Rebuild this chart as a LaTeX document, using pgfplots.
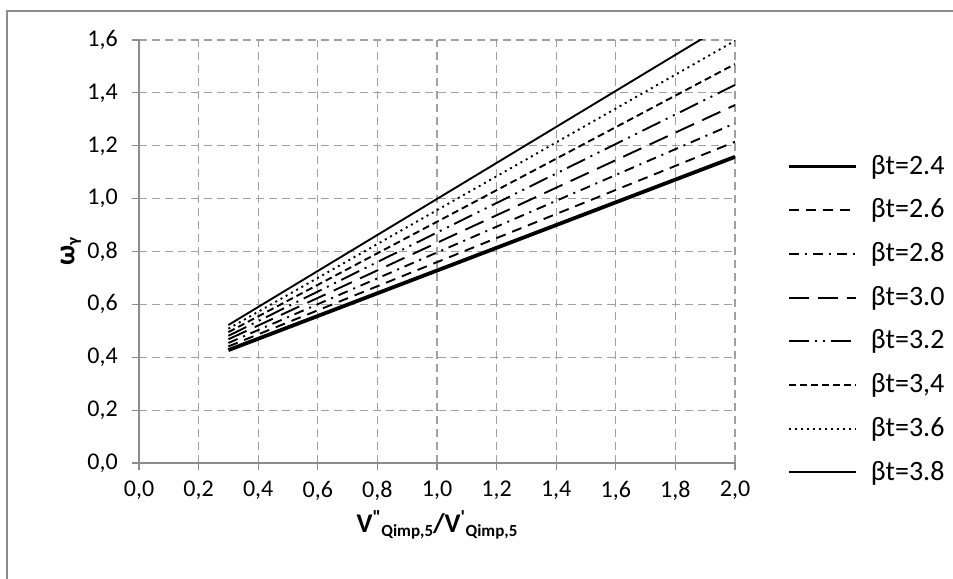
\documentclass[border=0pt]{standalone}
\usepackage{fontspec}
\setmainfont{Carlito}
\usepackage{pgfplots}
\pgfplotsset{compat=1.18}
\definecolor{axgray}{HTML}{8C8C8C}
\definecolor{grgray}{HTML}{A0A0A0}
\begin{document}
\fontsize{24bp}{28bp}\selectfont
\begin{tikzpicture}
\useasboundingbox (-139bp,-116bp) rectangle (814bp,463bp);
\draw[axgray, line width=1.5bp] (-132bp,-116bp) -- (-132bp,452bp) -- (814bp,452bp);
\begin{axis}[
  at={(0,0)}, anchor=south west,
  scale only axis, width=596bp, height=423bp,
  xmin=0, xmax=2, ymin=0, ymax=1.6,
  xtick={0,0.2,...,2.01}, ytick={0,0.2,...,1.61},
  axis line style={axgray, line width=1.5bp},
  axis x line*=bottom, axis y line*=left,
  tick style={axgray, line width=1.2bp},
  tick align=outside, major tick length=7bp,
  grid=major,
  major grid style={grgray, line width=1.1bp, dash pattern=on 8bp off 5bp},
  /pgf/number format/assume math mode=true,
  /pgf/number format/use comma,
  /pgf/number format/fixed, /pgf/number format/fixed zerofill,
  /pgf/number format/precision=1,
  ticklabel style={font=\fontsize{24bp}{28bp}\selectfont},
  xticklabel style={yshift=-3bp},
  yticklabel style={xshift=-6bp},
  xlabel={\fontsize{27bp}{31bp}\selectfont\bfseries V\textsuperscript{\textquotedbl}\raisebox{-0.3ex}{\fontsize{17bp}{20bp}\selectfont Qimp,5}/V\textsuperscript{\textquotesingle}\raisebox{-0.3ex}{\fontsize{17bp}{20bp}\selectfont Qimp,5}},
  ylabel={\fontsize{28bp}{32bp}\selectfont\bfseries ω\raisebox{-0.3ex}{\fontsize{17bp}{20bp}\selectfont γ}},
  xlabel style={at={(axis description cs:0.5,0)}, anchor=center, yshift=-62bp},
  ylabel style={at={(axis description cs:0,0.5)}, anchor=center, yshift=68bp},
  legend style={draw=none, fill=none, at={(1.087,0.733)}, anchor=north west,
    font=\fontsize{28bp}{32bp}\selectfont, row sep=17bp, inner sep=0pt,
    /tikz/every odd column/.append style={column sep=11bp}},
  legend cell align=left,
  legend image code/.code={\draw[#1] (0bp,0bp) -- (67bp,0bp);},
  no marks,
  every axis plot/.append style={black, line width=1.9bp},
]
\addplot[solid, line width=3.8bp] coordinates {(0.3,0.427) (2.0,1.158)};
\addlegendentry{βt=2.4}
\addplot[dash pattern=on 10bp off 7bp] coordinates {(0.3,0.441) (2.0,1.215)};
\addlegendentry{βt=2.6}
\addplot[dash pattern=on 10bp off 6bp on 2bp off 6bp] coordinates {(0.3,0.454) (2.0,1.285)};
\addlegendentry{βt=2.8}
\addplot[dash pattern=on 20bp off 9bp] coordinates {(0.3,0.468) (2.0,1.354)};
\addlegendentry{βt=3.0}
\addplot[dash pattern=on 20bp off 6bp on 2bp off 6bp on 2bp off 6bp] coordinates {(0.3,0.481) (2.0,1.430)};
\addlegendentry{βt=3.2}
\addplot[dash pattern=on 7bp off 4bp] coordinates {(0.3,0.495) (2.0,1.509)};
\addlegendentry{βt=3,4}
\addplot[dash pattern=on 2bp off 4bp] coordinates {(0.3,0.508) (2.0,1.597)};
\addlegendentry{βt=3.6}
\addplot[solid] coordinates {(0.3,0.522) (2.0,1.680)};
\addlegendentry{βt=3.8}
\end{axis}
\end{tikzpicture}
\end{document}
